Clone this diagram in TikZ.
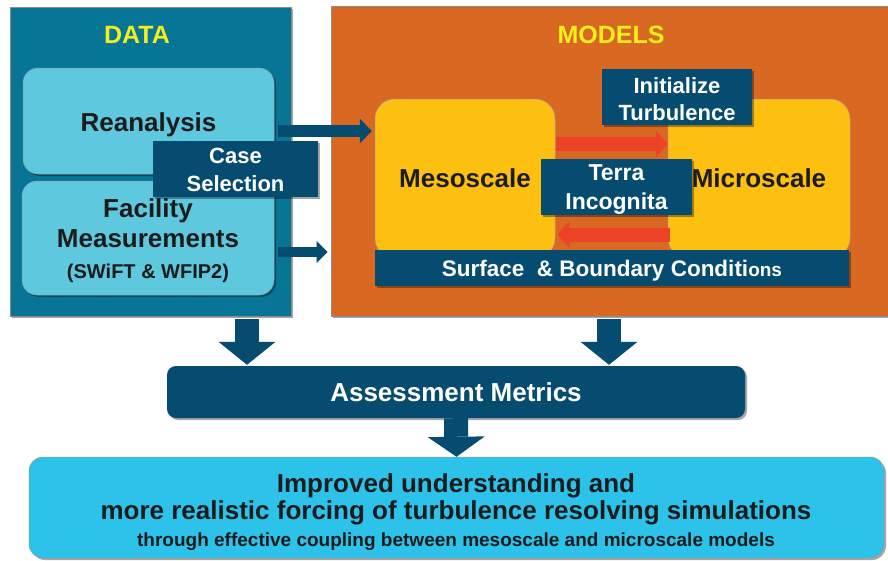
\documentclass[tikz,border=0pt]{standalone}
\usepackage{fontspec}
\setmainfont{Liberation Sans}
\usetikzlibrary{shadows,arrows.meta,calc}
\definecolor{dataBg}{RGB}{7,117,150}
\definecolor{lightC}{RGB}{94,200,223}
\definecolor{navyC}{RGB}{5,76,112}
\definecolor{orangeBg}{RGB}{216,104,34}
\definecolor{yellowBox}{RGB}{253,192,17}
\definecolor{redA}{RGB}{236,67,38}
\definecolor{titleY}{RGB}{244,238,28}
\definecolor{bottomC}{RGB}{45,194,234}
\definecolor{darkText}{RGB}{28,28,28}
\newcommand{\lift}[1]{\rule{0pt}{#1}}
\begin{document}
\begin{tikzpicture}[x=1pt,y=-1pt,
  shade/.style={drop shadow={shadow xshift=2pt,shadow yshift=-2pt,opacity=0.35,fill=black}},
  panel/.style={draw=black!45,line width=0.6pt,inner sep=0pt,shade},
  paneltitle/.style={text=titleY,font=\bfseries\fontsize{25}{30}\selectfont,inner sep=0pt},
  lightbox/.style={fill=lightC,draw=black!40,line width=0.5pt,rounded corners=15pt,inner sep=0pt,
     text=darkText,align=center,font=\bfseries\fontsize{26}{30}\selectfont,shade},
  yellowbox/.style={fill=yellowBox,draw=black!35,line width=0.5pt,rounded corners=20pt,inner sep=0pt,
     text=darkText,font=\bfseries\fontsize{26}{30}\selectfont},
  navybox/.style={fill=navyC,inner sep=0pt,text=white,align=center,shade},
  navyarrow/.style={draw=navyC,line width=12pt,-{Triangle[length=12pt,width=25pt,line width=0pt]},shorten >=3pt},
  navyarrowB/.style={draw=navyC,line width=10pt,-{Triangle[length=11pt,width=22pt,line width=0pt]},shorten >=3pt},
  redarrow/.style={draw=redA,line width=14pt,-{Triangle[length=12pt,width=27pt,line width=0pt]}},
  downarrow/.style={draw=navyC,line width=24pt,-{Triangle[length=23pt,width=57pt,line width=0pt]}}
]
\clip (0,0) rectangle (888,560);
\fill[white] (0,0) rectangle (888,560);

% DATA panel
\node[panel,fill=dataBg,minimum width=281pt,minimum height=309pt] (data) at (150.5,161.5) {};
\node[paneltitle] (datat) at (137,35) {DATA};
\node[lightbox,minimum width=251pt,minimum height=106pt] (rean) at (148.5,121) {\lift{27pt}Reanalysis};
\node[lightbox,minimum width=252pt,minimum height=114pt] (fac) at (148,238)
  {\lift{24pt}Facility\\[0pt]Measurements\\[1pt]{\fontsize{20}{24}\selectfont (SWiFT \& WFIP2)}};

% MODELS panel
\node[panel,fill=orangeBg,minimum width=565pt,minimum height=310pt] (models) at (613.5,161) {};
\node[paneltitle] (modelst) at (611,35) {MODELS};
\node[yellowbox,minimum width=180pt,minimum height=159pt] (meso) at (465,178.5) {Mesoscale};
\node[yellowbox,minimum width=182pt,minimum height=159pt] (micro) at (759,178.5) {Microscale};

% connectors DATA -> MODELS
\draw[navyarrow] ($(rean.east)+(4,10)$) coordinate (a1s) -- (a1s -| meso.west);
\draw[navyarrowB] ($(fac.east)+(4,14)$) coordinate (a2s) -- (a2s -| models.west);

\node[navybox,minimum width=165pt,minimum height=56pt,font=\bfseries\fontsize{22}{28}\selectfont] (case) at (235.5,169) {\lift{18pt}Case\\Selection};

% red arrows
\draw[redarrow] ($(meso.east)+(1,-34.5)$) coordinate (r1s) -- (r1s -| micro.west);
\draw[redarrow] ($(micro.west)+(2,56)$) coordinate (r2s) -- ($(r2s -| meso.east)+(2,0)$);

\node[navybox,minimum width=150pt,minimum height=56pt,font=\bfseries\fontsize{22}{27}\selectfont] (init) at (677,97) {\lift{20pt}Initialize\\Turbulence};
\node[navybox,minimum width=151pt,minimum height=56pt,font=\bfseries\fontsize{23}{29}\selectfont] (terra) at (616.5,187) {\lift{21pt}Terra\\Incognita};
\node[navybox,minimum width=474pt,minimum height=36pt,font=\bfseries\fontsize{22.5}{26}\selectfont] (surf) at (612,268)
  {\lift{21pt}Surface\ \ \& Boundary Conditi{\fontsize{19}{22}\selectfont ons}};

% Assessment
\node[navybox,rounded corners=9pt,minimum width=578pt,minimum height=52pt,font=\bfseries\fontsize{26}{30}\selectfont] (assess) at (456,392) {Assessment Metrics};
\draw[downarrow] ($(data.south)+(96.5,3)$) coordinate (d1) -- ($(d1 |- assess.north)+(0,-1)$);
\draw[downarrow] ($(models.south)+(-4.5,3)$) coordinate (d2) -- ($(d2 |- assess.north)+(0,-1)$);

% Bottom box
\node[fill=bottomC,draw=black!40,line width=0.5pt,rounded corners=14pt,minimum width=855pt,minimum height=101pt,inner sep=0pt,shade] (bottom) at (456.5,507.5) {};
\draw[downarrow,-{Triangle[length=20pt,width=57pt,line width=0pt]}] (assess.south) -- (bottom.north);
\node[text=darkText,align=center,inner sep=0pt,font=\bfseries] (btext) at (456,512)
  {{\fontsize{26}{27}\selectfont Improved understanding and}\\[2pt]
   {\fontsize{26}{27}\selectfont more realistic forcing of turbulence resolving simulations}\\[6pt]
   {\fontsize{19}{27}\selectfont through effective coupling between mesoscale and microscale models}};
\end{tikzpicture}
\end{document}
